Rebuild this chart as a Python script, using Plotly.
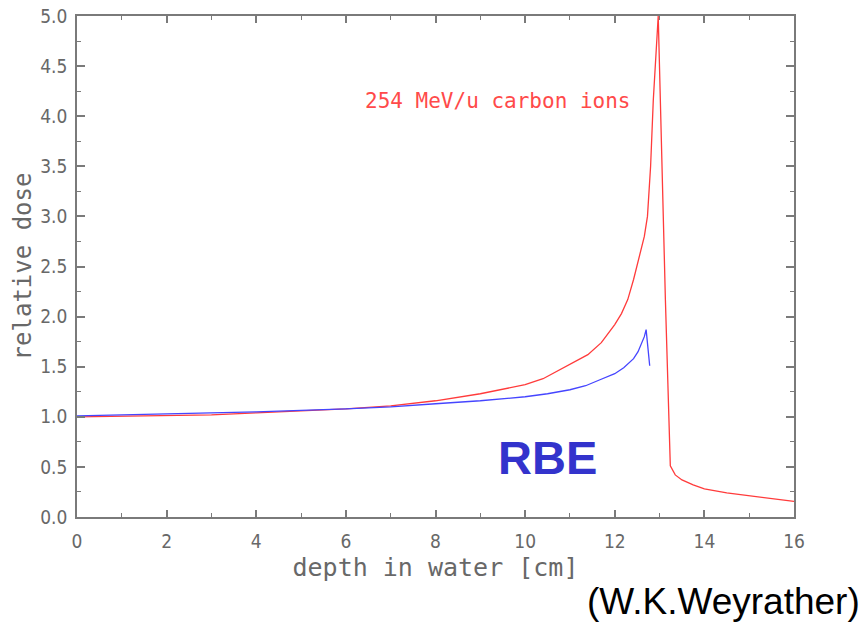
import plotly.graph_objects as go

# Depth-dose curve of a 254 MeV/u carbon beam (relative dose vs depth)
dose_depth = [0, 1, 2, 3, 4, 5, 6, 7, 8, 9, 10, 10.4, 11.0, 11.4, 11.7, 12.0, 12.15,
              12.29, 12.42, 12.57, 12.66, 12.73, 12.80, 12.86, 12.92, 12.97,
              13.13, 13.24, 13.35, 13.5, 13.75, 14.0, 14.5, 15.0, 15.5, 16.0]
dose_value = [1.00, 1.005, 1.01, 1.02, 1.04, 1.06, 1.08, 1.11, 1.16, 1.23, 1.32, 1.38, 1.52, 1.62, 1.74, 1.92, 2.03,
              2.17, 2.37, 2.63, 2.80, 3.00, 3.50, 4.16, 4.66, 5.00,
              2.17, 0.51, 0.42, 0.37, 0.32, 0.28, 0.24, 0.21, 0.18, 0.155]

# Relative biological effectiveness along the same depth axis
rbe_depth = [0, 2, 4, 6, 7, 8, 9, 10, 10.5, 11, 11.35, 11.67, 11.85, 12.0, 12.2, 12.42, 12.52, 12.6, 12.66, 12.70, 12.78]
rbe_value = [1.01, 1.03, 1.05, 1.08, 1.10, 1.13, 1.16, 1.20, 1.23, 1.27, 1.31, 1.37, 1.40, 1.43, 1.49, 1.58, 1.65, 1.73, 1.80, 1.87, 1.51]

x_ticks = [0, 2, 4, 6, 8, 10, 12, 14, 16]
y_ticks = [0.0, 0.5, 1.0, 1.5, 2.0, 2.5, 3.0, 3.5, 4.0, 4.5, 5.0]

axis_grey = "#7a7a7a"
text_grey = "#686868"
tick_font = dict(family="DejaVu Sans Condensed, Liberation Sans Narrow, Roboto", size=19, color=text_grey)
title_font = dict(family="DejaVu Sans Mono, Liberation Mono", size=25, color=text_grey)

fig = go.Figure()
fig.add_trace(go.Scatter(x=dose_depth, y=dose_value, mode="lines",
                         line=dict(color="#ff3b3b", width=1.3), showlegend=False))
fig.add_trace(go.Scatter(x=rbe_depth, y=rbe_value, mode="lines",
                         line=dict(color="#4545ff", width=1.3), showlegend=False))

fig.update_xaxes(range=[0, 16], tickvals=x_ticks, ticktext=[str(v) for v in x_ticks],
                 showline=True, linecolor=axis_grey, linewidth=1.5, mirror="ticks",
                 ticks="inside", ticklen=7, tickwidth=1.5, tickcolor=axis_grey,
                 minor=dict(ticks="inside", dtick=1, ticklen=4, tickwidth=1.2, tickcolor=axis_grey),
                 showgrid=False, zeroline=False, tickfont=tick_font, ticklabelstandoff=6,
                 automargin=False,
                 title=dict(text="depth in water [cm]", font=title_font, standoff=8))
fig.update_yaxes(range=[0, 5], tickvals=y_ticks, ticktext=[f"{v:.1f}" for v in y_ticks],
                 showline=True, linecolor=axis_grey, linewidth=1.5, mirror="ticks",
                 ticks="inside", ticklen=8, tickwidth=1.5, tickcolor=axis_grey,
                 minor=dict(ticks="inside", dtick=0.25, ticklen=4, tickwidth=1.2, tickcolor=axis_grey),
                 showgrid=False, zeroline=False, tickfont=tick_font, ticklabelstandoff=4,
                 automargin=False,
                 title=dict(text="relative dose", font=dict(family="DejaVu Sans Mono, Liberation Mono",
                                                            size=24, color=text_grey), standoff=2))

fig.add_annotation(x=0.587, y=0.858, xref="paper", yref="paper",
                   text="254 MeV/u carbon ions", showarrow=False,
                   font=dict(family="DejaVu Sans Mono, Liberation Mono", size=21, color="#ff4a4a"))
fig.add_annotation(x=10.49, y=0.59, xref="x", yref="y", text="<b>RBE</b>", showarrow=False,
                   font=dict(family="Liberation Sans, Arial", size=47, color="#3333cc"))
fig.add_annotation(x=1.0, y=0, xref="paper", yref="paper", xanchor="right", yanchor="middle",
                   xshift=68, yshift=-84,
                   text="(W.K.Weyrather)", showarrow=False,
                   font=dict(family="Liberation Sans, Arial", size=37, color="#000000"))

fig.update_layout(width=865, height=625, margin=dict(l=77, r=71, t=16, b=108),
                  plot_bgcolor="white", paper_bgcolor="white")

fig.write_html("out.html")
